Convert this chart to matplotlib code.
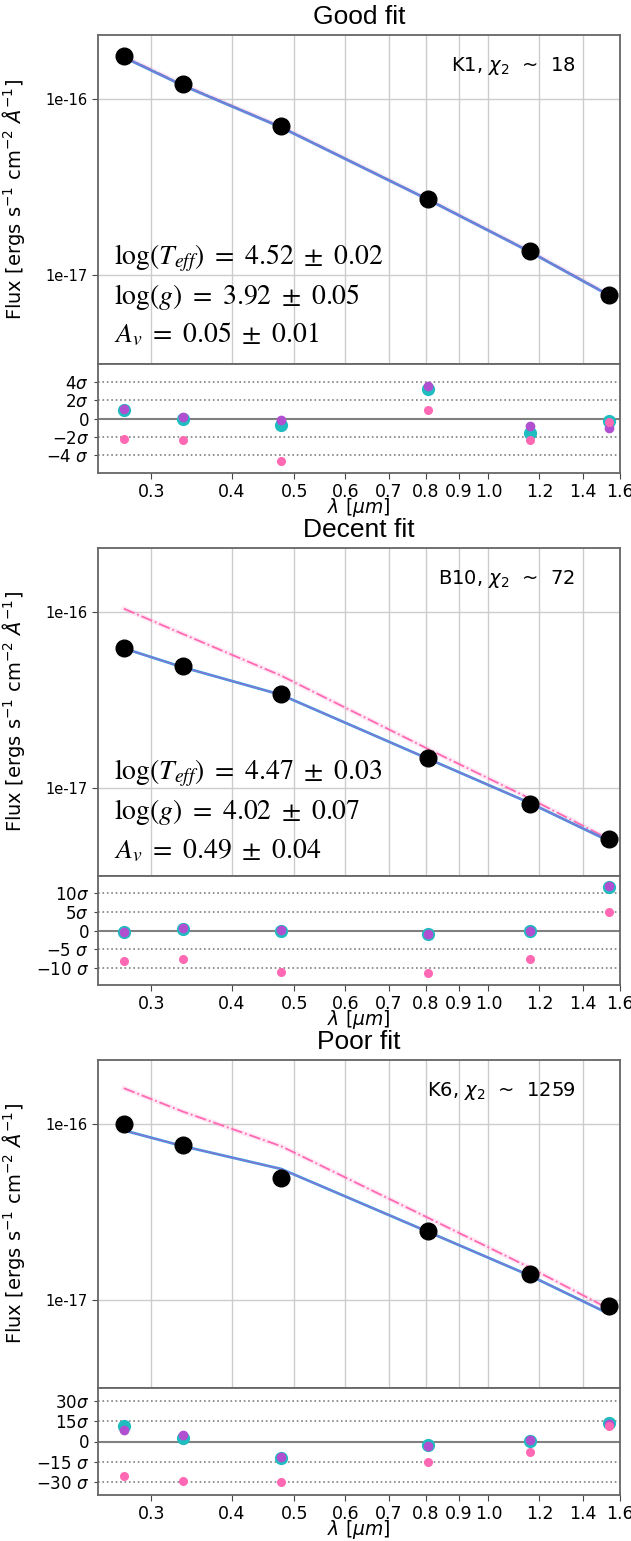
import matplotlib.pyplot as plt
import matplotlib.ticker as mticker
import numpy as np

# pivot wavelengths of the six filters [micron]
wave = [0.272, 0.336, 0.477, 0.806, 1.16, 1.54]
xticks = [0.3, 0.4, 0.5, 0.6, 0.7, 0.8, 0.9, 1.0, 1.2, 1.4, 1.6]
xticklabels = ["0.3", "0.4", "0.5", "0.6", "0.7", "0.8", "0.9", "1.0", "1.2", "1.4", "1.6"]

titles = ["Good fit", "Decent fit", "Poor fit"]
names = [r"K1, $\chi_2$  ~  18", r"B10, $\chi_2$  ~  72", r"K6, $\chi_2$  ~  1259"]

# observed fluxes
flux_k1 = [1.75e-16, 1.22e-16, 7.0e-17, 2.71e-17, 1.37e-17, 7.7e-18]
flux_b10 = [6.2e-17, 4.94e-17, 3.41e-17, 1.47e-17, 8.11e-18, 5.14e-18]
flux_k6 = [1.0e-16, 7.6e-17, 4.92e-17, 2.46e-17, 1.40e-17, 9.16e-18]

# best-fit reddened model
model_k1 = [1.72e-16, 1.19e-16, 6.9e-17, 2.69e-17, 1.36e-17, 7.7e-18]
model_b10 = [6.19e-17, 4.83e-17, 3.37e-17, 1.46e-17, 8.18e-18, 4.97e-18]
model_k6 = [9.16e-17, 7.45e-17, 5.53e-17, 2.43e-17, 1.37e-17, 8.3e-18]

# same model without extinction
nored_k1 = [1.74e-16, 1.20e-16, 6.95e-17, 2.70e-17, 1.37e-17, 7.75e-18]
nored_b10 = [1.04e-16, 7.46e-17, 4.33e-17, 1.66e-17, 8.67e-18, 5.09e-18]
nored_k6 = [1.59e-16, 1.17e-16, 7.45e-17, 2.92e-17, 1.52e-17, 8.85e-18]

# residuals in units of sigma
res_fit_k1 = [0.96, 0.0, -0.74, 3.26, -1.56, -0.3]
res_alt_k1 = [1.04, 0.22, -0.15, 3.55, -0.81, -1.07]
res_nored_k1 = [-2.3, -2.41, -4.67, 0.96, -2.41, -0.37]

res_fit_b10 = [-0.36, 0.27, 0.0, -1.07, -0.18, 11.7]
res_alt_b10 = [-0.27, 0.62, 0.18, -0.9, 0.0, 11.9]
res_nored_b10 = [-8.1, -7.6, -11.2, -11.5, -7.6, 5.1]

res_fit_k6 = [11.25, 2.75, -12.25, -2.9, 0.6, 13.5]
res_alt_k6 = [8.25, 4.5, -11.75, -3.0, 0.75, 13.25]
res_nored_k6 = [-25.5, -29.75, -30.5, -15.6, -8.1, 11.6]

res_ticks = [[4, 2, 0, -2, -4], [10, 5, 0, -5, -10], [30, 15, 0, -15, -30]]
res_labels = [[r"$4\sigma$", r"$2\sigma$", "0", r"$-2\sigma$", r"$-4\ \sigma$"],
              [r"$10\sigma$", r"$5\sigma$", "0", r"$-5\ \sigma$", r"$-10\ \sigma$"],
              [r"$30\sigma$", r"$15\sigma$", "0", r"$-15\ \sigma$", r"$-30\ \sigma$"]]
res_lim = [6, 14.7, 40]

params = [[r"$\log(T_{eff})\ =\ 4.52\ \pm\ 0.02$", r"$\log(g)\ =\ 3.92\ \pm\ 0.05$",
           r"$A_v\ =\ 0.05\ \pm\ 0.01$"],
          [r"$\log(T_{eff})\ =\ 4.47\ \pm\ 0.03$", r"$\log(g)\ =\ 4.02\ \pm\ 0.07$",
           r"$A_v\ =\ 0.49\ \pm\ 0.04$"],
          None]

fluxes = [flux_k1, flux_b10, flux_k6]
models = [model_k1, model_b10, model_k6]
noreds = [nored_k1, nored_b10, nored_k6]
res_fit = [res_fit_k1, res_fit_b10, res_fit_k6]
res_alt = [res_alt_k1, res_alt_b10, res_alt_k6]
res_nored = [res_nored_k1, res_nored_b10, res_nored_k6]

W, H = 631, 1541
L, R = 98, 620
# (main top, main bottom / residual top, residual bottom) in pixels
rows = [(35, 364, 473), (548, 876, 985), (1060, 1388, 1495)]
text_y = [[0.32, 0.203, 0.091], [0.312, 0.195, 0.078], None]

fig = plt.figure(figsize=(W / 100, H / 100), dpi=100)


def box(top, bottom):
    return [L / W, 1 - bottom / H, (R - L) / W, (bottom - top) / H]


def style_spines(ax):
    for s in ax.spines.values():
        s.set_color("#666666")
        s.set_linewidth(1.3)
    ax.tick_params(colors="#444444", labelcolor="black")


for i in range(3):
    top, mid, bot = rows[i]
    ax = fig.add_axes(box(top, mid))
    rax = fig.add_axes(box(mid, bot), sharex=ax)

    # main SED panel
    ax.plot(wave, noreds[i], color="hotpink", lw=3.5, alpha=0.15, zorder=2)
    ax.plot(wave, noreds[i], color="hotpink", lw=1.3, ls="-.", zorder=3)
    ax.plot(wave, models[i], color="#3f9be0", lw=2.0, zorder=4)
    ax.plot(wave, models[i], color="#c050c8", lw=0.7, alpha=0.7, zorder=5)
    ax.plot(wave, fluxes[i], "o", color="black", ms=12, zorder=6)

    ax.set_xscale("log")
    ax.set_yscale("log")
    ax.set_xlim(0.248, 1.6)
    ax.set_ylim(3.15e-18, 2.3e-16)
    ax.xaxis.set_major_locator(mticker.FixedLocator(xticks))
    ax.xaxis.set_minor_locator(mticker.NullLocator())
    ax.yaxis.set_major_locator(mticker.FixedLocator([1e-17, 1e-16]))
    ax.yaxis.set_minor_locator(mticker.NullLocator())
    ax.yaxis.set_major_formatter(mticker.FuncFormatter(lambda v, p: "%.0e" % v))
    ax.tick_params(axis="x", length=0, labelbottom=False)
    ax.tick_params(axis="y", labelsize=10.5, length=4)
    ax.grid(True, color="#cccccc", lw=1.0)
    style_spines(ax)
    ax.set_ylabel(r"Flux [ergs s$^{-1}$ cm$^{-2}$ $\AA^{-1}$]", fontsize=14)
    ax.yaxis.set_label_coords(-0.136, 0.5)

    ax.text(0.915, 0.905, names[i], transform=ax.transAxes, ha="right", va="center",
            fontsize=14)
    if params[i] is not None:
        for t, yy in zip(params[i], text_y[i]):
            ax.text(0.03, yy, t, transform=ax.transAxes, ha="left", va="center",
                    fontsize=20, math_fontfamily="stix")

    fig.text((L + R) / 2 / W, 1 - (top - 18) / H, titles[i], ha="center", va="center",
             fontsize=19, family="Liberation Sans")

    # residual panel
    rax.axhline(0, color="gray", lw=1.5, zorder=1)
    for v in res_ticks[i]:
        if v != 0:
            rax.axhline(v, color="gray", lw=1.2, ls=":", zorder=1)
    rax.plot(wave, res_fit[i], "o", color="#1fbcc0", ms=8.5, zorder=3)
    rax.plot(wave, res_alt[i], "o", color="#b050d0", ms=6.0, zorder=4)
    rax.plot(wave, res_nored[i], "o", color="#ff69b4", ms=5.5, zorder=5)
    rax.set_ylim(-res_lim[i], res_lim[i])
    rax.set_yticks(res_ticks[i])
    rax.set_yticklabels(res_labels[i])
    rax.xaxis.set_major_formatter(mticker.FixedFormatter(xticklabels))
    rax.tick_params(axis="x", labelsize=12.5, length=4)
    rax.tick_params(axis="y", labelsize=12, length=3)
    style_spines(rax)
    rax.set_xlabel(r"$\lambda\ [\mu m]$", fontsize=13.5, labelpad=-4)

fig.savefig("out.png", dpi=100)
